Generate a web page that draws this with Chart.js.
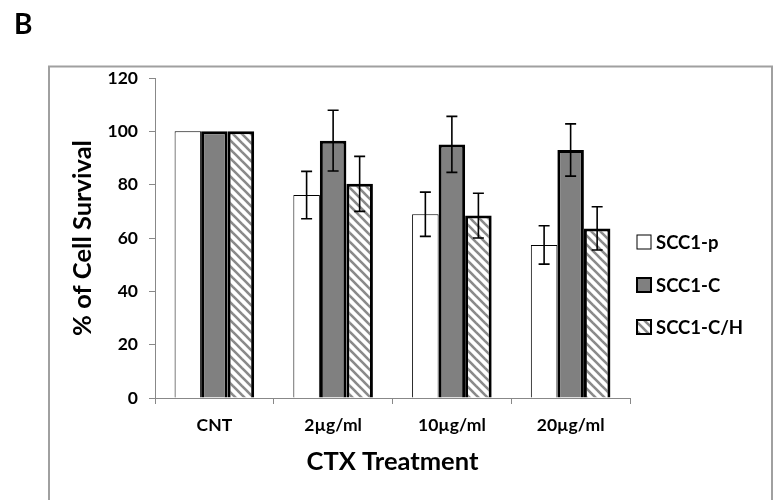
<!DOCTYPE html>
<html>
<head>
<meta charset="utf-8">
<script src="https://cdn.jsdelivr.net/npm/chart.js@4/dist/chart.umd.min.js"></script>
<style>
  html, body { margin: 0; padding: 0; background: #fff; }
  #wrap { position: relative; width: 783px; height: 500px; }
</style>
</head>
<body>
<div id="wrap"><canvas id="c" width="783" height="500"></canvas></div>
<script>
// Treatment groups and survival data (mean and error per cell line)
const categories = ['CNT', '2\u00b5g/ml', '10\u00b5g/ml', '20\u00b5g/ml'];
const seriesNames = ['SCC1-p', 'SCC1-C', 'SCC1-C/H'];
const survivalP  = [100, 76.1, 68.9, 57.4];
const survivalC  = [100, 96.5, 95.1, 93.0];
const survivalCH = [100, 80.3, 68.4, 63.6];
const errorP  = [0, 8.9, 8.3, 7.2];
const errorC  = [0, 11.4, 10.5, 9.8];
const errorCH = [0, 10.3, 8.4, 8.1];
const yTicks = [0, 20, 40, 60, 80, 100, 120];

const FONT = 'Lato, "Open Sans", sans-serif';

// Diagonal hatch fill for the third series
function makeHatch() {
  const s = 9;
  const c = document.createElement('canvas');
  c.width = s; c.height = s;
  const g = c.getContext('2d');
  g.fillStyle = '#ffffff';
  g.fillRect(0, 0, s, s);
  g.strokeStyle = '#8a8a8a';
  g.lineWidth = 2.6;
  for (let k = -1; k <= 1; k++) {
    g.beginPath();
    g.moveTo(k * s - 1, -1);
    g.lineTo(k * s + s + 1, s + 1);
    g.stroke();
  }
  return g.createPattern(c, 'repeat');
}
const ctx0 = document.getElementById('c').getContext('2d');
const hatch = makeHatch();

const errors = [errorP, errorC, errorCH];

// Whiskers drawn on top of the bars
const errorBars = {
  id: 'errorBars',
  afterDatasetsDraw(chart) {
    const { ctx, scales: { y } } = chart;
    ctx.save();
    ctx.strokeStyle = '#000';
    ctx.lineWidth = 1.6;
    chart.data.datasets.forEach((ds, i) => {
      const meta = chart.getDatasetMeta(i);
      meta.data.forEach((bar, j) => {
        const e = errors[i][j];
        if (!e) return;
        const v = ds.data[j];
        const yHi = y.getPixelForValue(v + e);
        const yLo = y.getPixelForValue(v - e);
        const x = bar.x, w = 5.5;
        ctx.beginPath();
        ctx.moveTo(x, yHi); ctx.lineTo(x, yLo);
        ctx.moveTo(x - w, yHi); ctx.lineTo(x + w, yHi);
        ctx.moveTo(x - w, yLo); ctx.lineTo(x + w, yLo);
        ctx.stroke();
      });
    });
    ctx.restore();
  }
};

// Panel frame, panel letter and side legend
const decorations = {
  id: 'decorations',
  beforeDraw(chart) {
    const { ctx } = chart;
    ctx.save();
    ctx.strokeStyle = '#a0a0a0';
    ctx.lineWidth = 2;
    ctx.strokeRect(49, 66.5, 723, 460);
    ctx.fillStyle = '#000';
    ctx.font = 'bold 28px ' + FONT;
    ctx.textBaseline = 'alphabetic';
    ctx.fillText('B', 14, 34);
    ctx.restore();
  },
  afterDraw(chart) {
    const { ctx } = chart;
    ctx.save();
    const ys = [242, 285, 327];
    chart.data.datasets.forEach((ds, i) => {
      const x = 637, y = ys[i], s = 14;
      ctx.fillStyle = ds.backgroundColor;
      ctx.fillRect(x, y - s / 2, s, s);
      ctx.strokeStyle = '#000';
      ctx.lineWidth = i === 0 ? 1 : 2;
      ctx.strokeRect(x, y - s / 2, s, s);
      ctx.fillStyle = '#000';
      ctx.font = 'bold 18.5px ' + FONT;
      ctx.textBaseline = 'middle';
      ctx.fillText(ds.label, 656, y + 1);
    });
    ctx.restore();
  }
};

new Chart(ctx0, {
  type: 'bar',
  data: {
    labels: categories,
    datasets: [
      { label: seriesNames[0], data: survivalP,  backgroundColor: '#ffffff', borderColor: '#000', borderWidth: 1 },
      { label: seriesNames[1], data: survivalC,  backgroundColor: '#808080', borderColor: '#000', borderWidth: 3 },
      { label: seriesNames[2], data: survivalCH, backgroundColor: hatch,     borderColor: '#000', borderWidth: 3 }
    ]
  },
  options: {
    responsive: false,
    animation: false,
    events: [],
    layout: { padding: { top: 78, right: 153, bottom: 0, left: 0 } },
    datasets: { bar: { categoryPercentage: 0.67, barPercentage: 1.0, borderSkipped: 'start' } },
    plugins: { legend: { display: false }, tooltip: { enabled: false } },
    scales: {
      x: {
        afterFit(s) { s.height = 102; },
        grid: { offset: true, drawOnChartArea: false, drawTicks: true, tickLength: 6, color: '#888', lineWidth: 1 },
        border: { color: '#888', width: 1 },
        ticks: { color: '#000', font: { family: FONT, size: 17.5, weight: 'bold' }, padding: 11, maxRotation: 0 },
        title: { display: true, text: 'CTX Treatment', color: '#000',
                 font: { family: FONT, size: 25.5, weight: 'bold' }, padding: { top: 0, bottom: 23 } }
      },
      y: {
        min: 0, max: 120,
        afterFit(s) { s.width = 155; },
        afterBuildTicks(s) { s.ticks = yTicks.map(v => ({ value: v })); },
        grid: { drawOnChartArea: false, drawTicks: true, tickLength: 6, color: '#888', lineWidth: 1 },
        border: { color: '#888', width: 1 },
        ticks: { color: '#000', font: { family: FONT, size: 17.5, weight: 'bold' }, padding: 11 },
        title: { display: true, text: '% of Cell Survival', color: '#000',
                 font: { family: FONT, size: 25.5, weight: 'bold' }, padding: { top: 67, bottom: 0 } }
      }
    }
  },
  plugins: [errorBars, decorations]
});
</script>
</body>
</html>
